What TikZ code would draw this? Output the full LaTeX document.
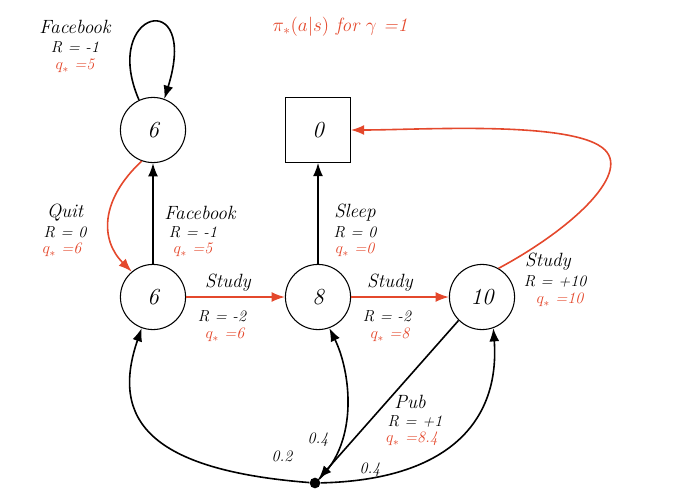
\documentclass[tikz,border=0pt]{standalone}
\usepackage{amsmath}
\usetikzlibrary{arrows.meta}
\definecolor{qred}{RGB}{228,72,44}
\begin{document}
\begin{tikzpicture}[x=0.0264cm,y=-0.0264cm,
	st/.style={circle,draw,thick,minimum size=1.72cm,inner sep=0pt,font=\LARGE\itshape},
	term/.style={rectangle,draw,minimum size=1.72cm,inner sep=0pt,font=\LARGE\itshape},
	big/.style={font=\Large\itshape},
	lab/.style={font=\large\itshape},
	rq/.style={font=\large\itshape,text=qred},
	edge/.style={-{Latex[length=3.5mm]},line width=1.2pt},
	redge/.style={-{Latex[length=3.5mm]},line width=1.2pt,qred}]

	\useasboundingbox (0,0) rectangle (677,500);

	\node[st] (fb) at (153,130) {6};
	\node[term] (sl) at (318,130) {0};
	\node[st] (c1) at (153,297) {6};
	\node[st] (c2) at (318,297) {8};
	\node[st] (c3) at (482,297) {10};
	\node[circle,fill,inner sep=0pt,minimum size=8pt] (pub) at (315,483) {};

	\node[rq,font=\Large\itshape] (ttl) at (340,27) {$\pi_*(a|s)$ for $\gamma$ =1};

	% edges
	\draw[edge] (fb.115) .. controls (100,10) and (200,-15) .. (fb.70);
	\draw[redge] (fb.250) .. controls (100,200) and (100,240) .. (c1.130);
	\draw[edge] (c1) -- (fb);
	\draw[edge] (c2) -- (sl);
	\draw[redge] (c1) -- (c2);
	\draw[redge] (c2) -- (c3);
	\draw[redge] (c3.60) .. controls (570,230) and (630,175) .. (605,150) .. controls (575,120) and (420,130) .. (sl.east);
	\draw[edge] (c3.225) -- (pub);
	\draw[edge] (pub) .. controls (150,470) and (110,420) .. (c1.250);
	\draw[edge] (pub) .. controls (360,440) and (350,370) .. (c2.290);
	\draw[edge] (pub) .. controls (450,480) and (500,420) .. (c3.290);

	% labels
	\node[big] (l1) at (75,27) {Facebook};
	\node[lab] (l2) at (75,47) {R = -1};
	\node[rq] (l3) at (75,66) {$q_*$ =5};
	\node[big] (l4) at (65,213) {Quit};
	\node[lab] (l5) at (65,232) {R = 0};
	\node[rq] (l6) at (62,250) {$q_*$ =6};
	\node[big] (l7) at (200,213) {Facebook};
	\node[lab] (l8) at (193,232) {R = -1};
	\node[rq] (l9) at (193,250) {$q_*$ =5};
	\node[big] (l10) at (228,283) {Study};
	\node[lab] (l11) at (222,316) {R = -2};
	\node[rq] (l12) at (225,335) {$q_*$ =6};
	\node[big] (l13) at (355,213) {Sleep};
	\node[lab] (l14) at (355,232) {R = 0};
	\node[rq] (l15) at (355,250) {$q_*$ =0};
	\node[big] (l16) at (390,283) {Study};
	\node[lab] (l17) at (387,316) {R = -2};
	\node[rq] (l18) at (390,335) {$q_*$ =8};
	\node[big] (l19) at (548,262) {Study};
	\node[lab] (l20) at (555,281) {R = +10};
	\node[rq] (l21) at (560,300) {$q_*$ =10};
	\node[big] (l22) at (410,402) {Pub};
	\node[lab] (l23) at (415,421) {R = +1};
	\node[rq] (l24) at (412,439) {$q_*$ =8.4};
	\node[lab] (p1) at (282,456) {0.2};
	\node[lab] (p2) at (318,440) {0.4};
	\node[lab] (p3) at (370,470) {0.4};
\end{tikzpicture}
\end{document}
